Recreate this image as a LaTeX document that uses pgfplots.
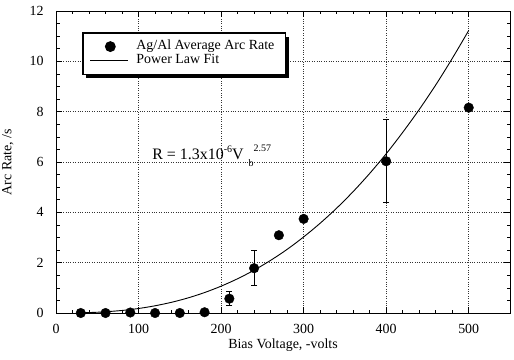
\documentclass[border=0pt]{standalone}
\usepackage{pgfplots}
\pgfplotsset{compat=1.18}
\usepackage{fontspec}
\setmainfont{Liberation Serif}
\usetikzlibrary{shadows}

\newcommand{\lblfont}{\fontsize{14}{16}\selectfont}
\newcommand{\supfont}{\fontsize{10}{10}\selectfont}

% legend symbols must not pick up the legend box's drop shadow
\makeatletter
\tikzset{no preactions/.code={\let\tikz@preactions\pgfutil@empty}}
\makeatother

\pgfplotsset{
  dotlegend/.style={legend image code/.code={%
    \path[no preactions, draw=none, fill=none] (0bp,-5bp) rectangle (42bp,5bp);
    \fill[no preactions, black] (20bp,0bp) circle[radius=4.8bp];}},
  linelegend/.style={legend image code/.code={%
    \path[no preactions, draw=none, fill=none] (0bp,-5bp) rectangle (42bp,5bp);
    \draw[no preactions, black, fill=none, line width=0.8bp] (0bp,0bp) -- (38bp,0bp);}},
}

\begin{document}
\begin{tikzpicture}
\begin{axis}[
  /pgf/number format/assume math mode=true,
  scale only axis, width=454bp, height=302bp,
  xmin=0, xmax=550, ymin=0, ymax=12,
  xtick={0,100,...,500}, ytick={0,2,...,12},
  minor x tick num=4, minor y tick num=3,
  tick align=inside, major tick length=6bp, minor tick length=3.5bp,
  grid=major, major grid style={dotted, black!80, line width=0.55bp},
  axis line style={line width=0.9bp},
  tick style={black, line width=0.6bp},
  xticklabel={\lblfont\pgfmathprintnumber{\tick}},
  yticklabel={\lblfont\pgfmathprintnumber{\tick}},
  xticklabel style={yshift=-8bp},
  yticklabel style={xshift=-9bp},
  xlabel={\lblfont Bias Voltage, -volts},
  ylabel={\lblfont Arc Rate, /s},
  xlabel style={at={(axis description cs:0.5,-0.107)}, anchor=center},
  ylabel style={at={(axis description cs:-0.106,0.5)}, anchor=center},
  clip=false,
  legend cell align=left,
  legend style={at={(rel axis cs:0.058,0.929)}, anchor=north west,
    draw=black, line width=1.2bp, fill=white,
    drop shadow={shadow xshift=3.5bp, shadow yshift=-3.5bp, opacity=1, fill=black},
    font=\fontsize{14}{14}\selectfont,
    nodes={text height=10bp, text depth=3.5bp, inner ysep=0.3bp, inner xsep=4bp},
    inner xsep=7bp, inner ysep=6.5bp, row sep=0bp},
]
% measured arc rates (with error bars where measured)
\addplot[only marks, mark=*, mark size=4.8bp, black, dotlegend,
  error bars/.cd, y dir=both, y explicit,
  error bar style={line width=0.6bp},
  error mark options={rotate=90, mark size=3bp, line width=0.6bp}]
  coordinates {
    (210,0.57) += (0,0.28) -= (0,0.27)
    (240,1.78) += (0,0.72) -= (0,0.68)
    (400,6.03) += (0,1.67) -= (0,1.63)
  };
\addlegendentry{Ag/Al Average Arc Rate}
\addplot[only marks, mark=*, mark size=4.8bp, black, forget plot]
  coordinates {
    (30,0.0) (60,0.0) (90,0.02) (120,0.0) (150,0.0) (180,0.03)
    (270,3.09) (300,3.74) (500,8.16)
  };
% power law fit R = 1.3e-6 V^2.57, tabulated
\addplot[black, line width=0.9bp, smooth, linelegend]
  coordinates {
    (30,0.0081) (50,0.0302) (60,0.0483) (80,0.101) (100,0.179)
    (120,0.287) (140,0.426) (160,0.600) (180,0.813) (200,1.066)
    (220,1.362) (240,1.702) (260,2.092) (280,2.529) (300,3.022)
    (320,3.567) (340,4.166) (360,4.825) (380,5.545) (400,6.327)
    (420,7.177) (440,8.084) (460,9.060) (480,10.113) (500,11.227)
  };
\addlegendentry{Power Law Fit}
\node[anchor=base west, inner sep=0pt]
  at (axis cs:116.5,6.08)
  {\fontsize{16}{18}\selectfont R = 1.3x10\raisebox{7.5bp}{\supfont -6}V\hspace{5bp}%
   \raisebox{-7bp}{\supfont b}\raisebox{8bp}{\supfont 2.57}};
\end{axis}
\pgfresetboundingbox
\path[use as bounding box]
  ([shift={(-56bp,-46bp)}]current axis.south west) rectangle
  ([shift={(4bp,11bp)}]current axis.north east);
\end{tikzpicture}
\end{document}
